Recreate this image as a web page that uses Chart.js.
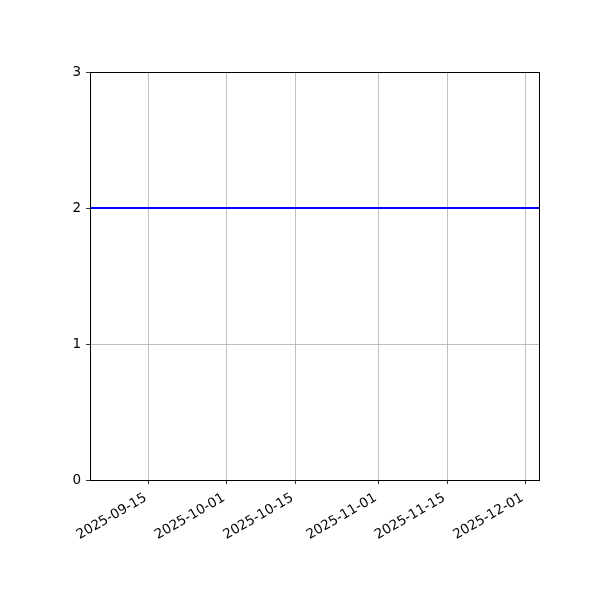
<!DOCTYPE html>
<html>
<head>
<meta charset="utf-8">
<script src="https://cdn.jsdelivr.net/npm/chart.js@4"></script>
<style>
  body { margin: 0; background: #fff; }
  canvas { display: block; }
</style>
</head>
<body>
<canvas id="chart" width="600" height="600"></canvas>
<script>
// values
var dates = ['2025-09-03', '2025-12-04'];
var values = [2, 2];
var xTickDates = ['2025-09-15', '2025-10-01', '2025-10-15', '2025-11-01', '2025-11-15', '2025-12-01'];
var yTicks = [0, 1, 2, 3];

function toMs(d) {
    return Date.parse(d + 'T00:00:00Z');
}

function fmtDate(ms) {
    return new Date(ms).toISOString().slice(0, 10);
}

// black frame round the plot area
var framePlugin = {
    id: 'frame',
    afterDraw: function(chart) {
        var a = chart.chartArea;
        var ctx = chart.ctx;
        ctx.save();
        ctx.strokeStyle = '#000';
        ctx.lineWidth = 1;
        ctx.strokeRect(a.left + 0.5, a.top + 0.5, a.right - a.left - 1, a.bottom - a.top);
        ctx.restore();
    }
};

var font = { family: 'DejaVu Sans', size: 13.5 };

var ctx = document.getElementById('chart').getContext('2d');
var chart = new Chart(ctx, {
    type: 'line',
    data: {
        datasets: [{
            data: dates.map(function(d, i) { return { x: toMs(d), y: values[i] }; }),
            borderColor: '#0000ff',
            borderWidth: 2,
            pointRadius: 0,
            fill: false,
            tension: 0
        }]
    },
    options: {
        responsive: false,
        animation: false,
        devicePixelRatio: 1,
        layout: { padding: { top: 72, right: 60, left: 0, bottom: 0 } },
        plugins: {
            legend: { display: false },
            tooltip: { enabled: false }
        },
        scales: {
            x: {
                type: 'linear',
                min: toMs(dates[0]),
                max: toMs(dates[dates.length - 1]),
                afterBuildTicks: function(scale) {
                    scale.ticks = xTickDates.map(function(d) { return { value: toMs(d) }; });
                },
                afterFit: function(scale) { scale.height = 120; },
                grid: {
                    color: '#b0b0b0',
                    lineWidth: 0.8,
                    tickColor: '#000',
                    tickLength: 4
                },
                border: { display: false },
                ticks: {
                    color: '#000',
                    font: font,
                    minRotation: 30,
                    maxRotation: 30,
                    autoSkip: false,
                    padding: 6,
                    labelOffset: -3,
                    callback: function(v) { return fmtDate(v); }
                }
            },
            y: {
                min: yTicks[0],
                max: yTicks[yTicks.length - 1],
                afterBuildTicks: function(scale) {
                    scale.ticks = yTicks.map(function(v) { return { value: v }; });
                },
                afterFit: function(scale) { scale.width = 90; },
                grid: {
                    color: '#b0b0b0',
                    lineWidth: 0.8,
                    tickColor: '#000',
                    tickLength: 4
                },
                border: { display: false },
                ticks: {
                    color: '#000',
                    font: font,
                    padding: 5
                }
            }
        }
    },
    plugins: [framePlugin]
});
</script>
</body>
</html>
